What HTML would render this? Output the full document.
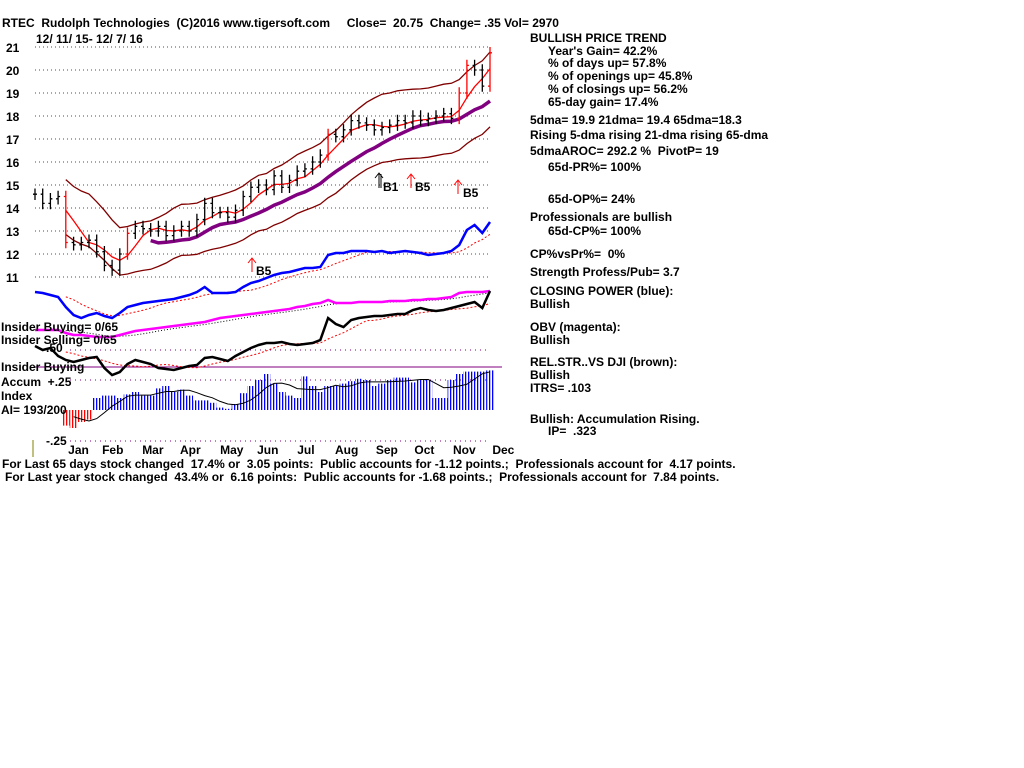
<!DOCTYPE html>
<html><head><meta charset="utf-8"><style>
body{margin:0;background:#fff;}
svg{display:block;}
text{font-family:"Liberation Sans",Arial,sans-serif;font-weight:bold;font-size:12px;fill:#000;white-space:pre;}
</style></head><body>
<svg id="chart" width="1024" height="768" viewBox="0 0 1024 768" xmlns="http://www.w3.org/2000/svg" xml:space="preserve">
<defs>
<pattern id="stripes" width="3" height="10" patternUnits="userSpaceOnUse"><rect x="0" y="0" width="1.3" height="10" fill="#0000ff"/></pattern>
<pattern id="rstripes" width="3" height="10" patternUnits="userSpaceOnUse"><rect x="0" y="0" width="1.3" height="10" fill="#ff0000"/></pattern>
</defs>
<text x="2" y="27">RTEC  Rudolph Technologies  (C)2016 www.tigersoft.com     Close=  20.75  Change= .35 Vol= 2970</text>
<text x="36" y="43">12/ 11/ 15- 12/ 7/ 16</text>
<g id="grid"></g>
<g id="yticks"></g>
<g id="lower"></g>
<g id="price"></g>
<g id="months"></g>
<g>
<path d="M252 272 V259 M248 263 L252 258 L256 263" stroke="#f00" fill="none"/>
<text x="256" y="275">B5</text>
<path d="M379 188 V174 M375 178 L379 173 L383 178 M381 188 V174" stroke="#000" fill="none"/>
<text x="383" y="191">B1</text>
<path d="M411 188 V175 M407 179 L411 174 L415 179" stroke="#f00" fill="none"/>
<text x="415" y="191">B5</text>
<path d="M458 194 V181 M454 185 L458 180 L462 185" stroke="#f00" fill="none"/>
<text x="463" y="197">B5</text>
</g>
<g>
<text x="1" y="331">Insider Buying= 0/65</text>
<text x="1" y="344">Insider Selling= 0/65</text>
<text x="46" y="352">.50</text>
<text x="1" y="371">Insider Buying</text>
<text x="1" y="386">Accum  +.25</text>
<text x="1" y="400">Index</text>
<text x="1" y="414">AI= 193/200</text>
<text x="46" y="445">-.25</text>
<line x1="33" y1="440" x2="33" y2="457" stroke="#808000"/>
</g>
<g>
<text x="530" y="42">BULLISH PRICE TREND</text>
<text x="548" y="55">Year's Gain= 42.2%</text>
<text x="548" y="67">% of days up= 57.8%</text>
<text x="548" y="80">% of openings up= 45.8%</text>
<text x="548" y="93">% of closings up= 56.2%</text>
<text x="548" y="106">65-day gain= 17.4%</text>
<text x="530" y="124">5dma= 19.9 21dma= 19.4 65dma=18.3</text>
<text x="530" y="139">Rising 5-dma rising 21-dma rising 65-dma</text>
<text x="530" y="155">5dmaAROC= 292.2 %  PivotP= 19</text>
<text x="548" y="171">65d-PR%= 100%</text>
<text x="548" y="203">65d-OP%= 24%</text>
<text x="530" y="221">Professionals are bullish</text>
<text x="548" y="235">65d-CP%= 100%</text>
<text x="530" y="258">CP%vsPr%=  0%</text>
<text x="530" y="276">Strength Profess/Pub= 3.7</text>
<text x="530" y="295">CLOSING POWER (blue):</text>
<text x="530" y="308">Bullish</text>
<text x="530" y="331">OBV (magenta):</text>
<text x="530" y="344">Bullish</text>
<text x="530" y="366">REL.STR..VS DJI (brown):</text>
<text x="530" y="379">Bullish</text>
<text x="530" y="392">ITRS= .103</text>
<text x="530" y="423">Bullish: Accumulation Rising.</text>
<text x="548" y="435">IP=  .323</text>
</g>
<text x="2" y="468">For Last 65 days stock changed  17.4% or  3.05 points:  Public accounts for -1.12 points.;  Professionals account for  4.17 points.</text>
<text x="5" y="481">For Last year stock changed  43.4% or  6.16 points:  Public accounts for -1.68 points.;  Professionals account for  7.84 points.</text>
</svg>
<script>
const priceTicks=[11,12,13,14,15,16,17,18,19,20,21];
const closes=[14.6,14.2,14.4,14.5,12.5,12.4,12.5,12.6,12.1,11.5,11.3,12.0,12.9,13.2,13.1,13.0,13.2,12.8,13.0,13.2,13.0,13.5,14.2,13.8,13.8,13.6,13.9,14.5,14.9,15.0,14.8,15.4,14.9,15.2,15.6,15.7,16.0,16.3,17.2,17.1,17.4,17.8,17.7,17.6,17.4,17.5,17.6,17.8,17.7,18.0,17.8,17.9,18.0,18.1,17.9,19.0,20.2,20.0,19.3,20.75];
const cpVals=[33,32,30,28,18,10,7,10,12,9,7,12,18,20,22,23,24,25,26,28,30,33,38,32,32,32,33,38,42,44,47,50,52,53,55,57,57,58,70,72,72,74,74,74,73,74,72,73,74,73,72,70,71,72,74,80,95,100,92,103];
const obvVals=[15,15,15,15,12,10,10,9,8,8,8,10,12,14,15,16,17,18,19,20,21,22,23,25,27,28,29,30,31,32,33,34,35,36,38,39,41,42,45,42,42,42,43,43,43,43,44,44,44,45,45,46,46,47,48,52,53,53,53,54];
const rsVals=[34,30,32,24,20,18,20,22,23,12,5,8,16,20,18,16,12,11,10,12,14,15,22,23,21,19,24,28,32,35,37,37,38,36,35,36,37,40,62,56,53,60,62,63,64,64,65,66,66,70,72,70,69,70,72,74,76,78,72,89];
const accumVals=[0,0,0,0,-0.13,-0.15,-0.1,-0.08,0.1,0.12,0.12,0.1,0.13,0.15,0.12,0.12,0.18,0.2,0.15,0.17,0.12,0.08,0.08,0.06,0.02,0.01,0.05,0.14,0.2,0.25,0.3,0.22,0.15,0.12,0.1,0.28,0.2,0.15,0.2,0.2,0.22,0.24,0.26,0.25,0.2,0.22,0.25,0.27,0.27,0.23,0.25,0.25,0.1,0.1,0.25,0.3,0.32,0.32,0.32,0.33];
const months=["Jan","Feb","Mar","Apr","May","Jun","Jul","Aug","Sep","Oct","Nov","Dec"];
const monthIdx=[4.3,8.7,13.9,18.8,24,28.8,34,38.9,44.2,49.2,54.2,59.3];

const NS="http://www.w3.org/2000/svg";
const N=closes.length;
const X0=35,X1=490;
const xS=i=>X0+i*(X1-X0)/(N-1);
const yP=p=>47+(21-p)*23;
const yCP=v=>325-v, yOBV=v=>345-v, yRS=v=>380-v, yAC=v=>410-v*120;
function mk(tag,attrs,parent){const e=document.createElementNS(NS,tag);for(const k in attrs)e.setAttribute(k,attrs[k]);parent.appendChild(e);return e;}
const grid=document.getElementById('grid'),yt=document.getElementById('yticks'),lower=document.getElementById('lower'),price=document.getElementById('price'),mg=document.getElementById('months');

priceTicks.forEach(p=>{
  const l=mk('line',{x1:X0,x2:X1,y1:yP(p),y2:yP(p),stroke:'#008000','stroke-dasharray':'1 3'},grid);
  
  
  const t=mk('text',{x:6,y:yP(p)+5},yt);t.textContent=p;
  
  
});
[350,380,441].forEach(y=>{
  const l=mk('line',{x1:70,x2:490,y1:y,y2:y,stroke:'#800080','stroke-dasharray':'1 4'},lower);
  
  
});
const sep=mk('line',{x1:35,x2:502,y1:367,y2:367,stroke:'#800080'},lower);



function ma(arr,w){return arr.map((v,i)=>{const s=arr.slice(Math.max(0,i-w+1),i+1);return s.reduce((a,b)=>a+b,0)/s.length;});}
function poly(vals,fy,start,attrs,name){
  const pts=[];for(let i=start;i<vals.length;i++)pts.push(xS(i).toFixed(1)+','+fy(vals[i]).toFixed(1));
  const e=mk('polyline',Object.assign({points:pts.join(' '),fill:'none'},attrs),attrs.parent||price);
  
  
  return e;
}
poly(ma(cpVals,6),yCP,4,{stroke:'#f00','stroke-dasharray':'2 2',parent:lower},'cp-ma');
poly(cpVals,yCP,0,{stroke:'#0000ff','stroke-width':2.5,parent:lower},'closing-power-line');
poly(ma(obvVals,6),yOBV,4,{stroke:'#000','stroke-dasharray':'1 2',parent:lower},'obv-ma');
poly(obvVals,yOBV,0,{stroke:'#ff00ff','stroke-width':2.5,parent:lower},'obv-line');
poly(ma(rsVals,6),yRS,4,{stroke:'#f00','stroke-dasharray':'2 2',parent:lower},'rs-ma');
poly(rsVals,yRS,0,{stroke:'#000','stroke-width':2.5,parent:lower},'rel-strength-line');
const bw=(X1-X0)/(N-1);
accumVals.forEach((v,i)=>{
  if(v===0)return;
  const y0=yAC(0),y1=yAC(v);
  const r=mk('rect',{x:xS(i)-bw/2,y:Math.min(y0,y1),width:bw,height:Math.abs(y1-y0),fill:v>0?'url(#stripes)':'url(#rstripes)'},lower);
  
  
});
poly(ma(accumVals,5),yAC,5,{stroke:'#000','stroke-width':1,parent:lower},'accum-ma');

const m21=ma(closes,4),m65=ma(closes,13),mb=ma(closes,8);
poly(mb.map(v=>v*1.085),yP,4,{stroke:'#800000','stroke-width':1.3},'upper-band');
poly(mb.map(v=>v*0.915),yP,4,{stroke:'#800000','stroke-width':1.3},'lower-band');
poly(m65,yP,15,{stroke:'#800080','stroke-width':3.5},'ma-65');
poly(m21,yP,4,{stroke:'#f00','stroke-width':1.3},'ma-21');
closes.forEach((c,i)=>{
  const x=xS(i),prev=i?closes[i-1]:c,lo=Math.min(c,prev)-0.25,hi=Math.max(c,prev)+0.25;
  const col=Math.abs(c-prev)>0.8?'#f00':'#000';
  const b=mk('path',{d:`M${x.toFixed(1)} ${yP(hi).toFixed(1)} V${yP(lo).toFixed(1)} M${(x-2).toFixed(1)} ${yP(prev).toFixed(1)} H${x.toFixed(1)} M${x.toFixed(1)} ${yP(c).toFixed(1)} H${(x+2).toFixed(1)}`,stroke:col,'stroke-width':1.3,fill:'none'},price);
  
  
});
months.forEach((m,i)=>{
  const t=mk('text',{x:xS(monthIdx[i]),y:454},mg);t.textContent=m;
  
  
});
</script>
</body></html>
